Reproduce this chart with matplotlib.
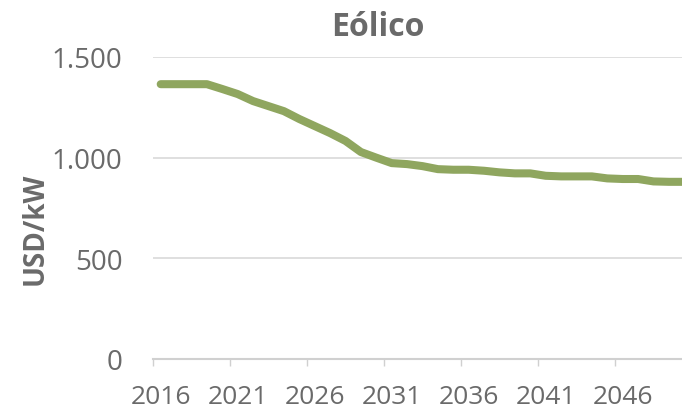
import numpy as np, matplotlib
matplotlib.use('Agg'); import matplotlib.pyplot as plt
from matplotlib.ticker import FixedLocator, FuncFormatter

years = list(range(2016, 2051))
usd_kw = [1365, 1365, 1365, 1365, 1341, 1316, 1281, 1256, 1231, 1192,
          1157, 1122, 1083, 1028, 1000, 973, 968, 958, 943, 940,
          940, 935, 927, 922, 922, 910, 907, 907, 907, 897,
          894, 894, 882, 880, 880]
label_years = [2016, 2021, 2026, 2031, 2036, 2041, 2046]
y_ticks = [0, 500, 1000, 1500]

plt.rcParams['font.family'] = ['Open Sans', 'DejaVu Sans']
txt = '#6a6a6a'
green = '#8FA65F'

fig = plt.figure(figsize=(6.82, 4.14), dpi=100)
ax = fig.add_axes([153/682, 54/414, 539/682, 302/414])
ax.plot(years, usd_kw, color=green, lw=5.8, solid_capstyle='round', solid_joinstyle='round')

ax.set_xlim(2015.5, 2050.5)
ax.set_ylim(0, 1500)
ax.set_yticks(y_ticks)
ax.yaxis.set_major_formatter(FuncFormatter(lambda v, p: f'{int(v):,}'.replace(',', '.')))
ax.set_xticks(label_years)
ax.xaxis.set_minor_locator(FixedLocator([y - 0.5 for y in label_years]))
ax.tick_params(axis='x', which='major', length=0, pad=18, labelsize=19, labelcolor=txt)
ax.tick_params(axis='x', which='minor', length=5, width=1, color='#d0d0d0')
ax.tick_params(axis='y', length=0, pad=22, labelsize=20, labelcolor=txt)
ax.grid(axis='y', color='#d9d9d9', lw=1.2)
ax.set_axisbelow(True)
for s in ['top', 'right', 'left']:
    ax.spines[s].set_visible(False)
ax.spines['bottom'].set_color('#d0d0d0')
ax.spines['bottom'].set_linewidth(1.5)

fig.text(378/682, 1 - 28/414, 'Eólico', ha='center', va='center', fontsize=23,
         fontweight='bold', color=txt)
fig.text(35/682, 1 - 229/414, 'USD/kW', rotation=90, ha='center', va='center',
         fontsize=20, fontweight='bold', color=txt)

plt.savefig('out.png', dpi=100)
